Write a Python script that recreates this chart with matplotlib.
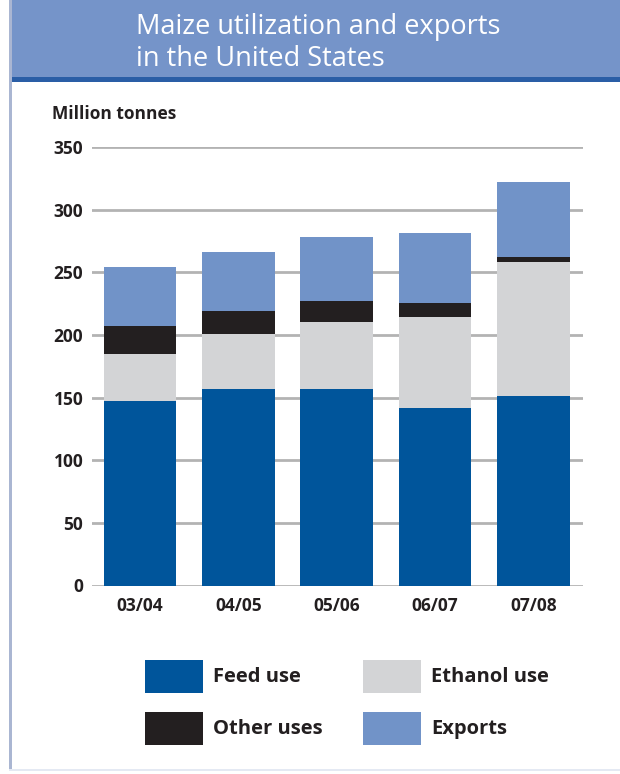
import matplotlib
matplotlib.use("Agg")
import matplotlib.pyplot as plt
from matplotlib.patches import Rectangle
import numpy as np

# Marketing years
seasons = ["03/04", "04/05", "05/06", "06/07", "07/08"]

# Utilization and exports, million tonnes
feed_use = [147.4, 156.7, 156.7, 142.0, 151.4]
ethanol_use = [37.5, 44.2, 54.0, 72.2, 107.0]
other_uses = [22.6, 18.6, 16.5, 11.7, 3.7]
exports = [46.7, 47.1, 51.4, 55.9, 60.4]

series_names = ["Feed use", "Ethanol use", "Other uses", "Exports"]
series_values = [feed_use, ethanol_use, other_uses, exports]
series_colors = ["#00559b", "#d3d4d6", "#231f20", "#7193c8"]

y_ticks = [0, 50, 100, 150, 200, 250, 300, 350]

plt.rcParams["font.family"] = ["Open Sans", "DejaVu Sans"]

W, H = 620, 774
fig = plt.figure(figsize=(W / 100, H / 100), dpi=100)
fig.patch.set_facecolor("white")

# Header band with title
fig.add_artist(Rectangle((10 / W, 1 - 77 / H), 1 - 10 / W, 77 / H,
                         transform=fig.transFigure, facecolor="#7594c9",
                         edgecolor="none"))
fig.add_artist(Rectangle((10 / W, 1 - 82 / H), 1 - 10 / W, 5 / H,
                         transform=fig.transFigure, facecolor="#2a5ea6",
                         edgecolor="none"))
# Frame lines
fig.add_artist(Rectangle((9 / W, 4 / H), 3 / W, 1 - 4 / H,
                         transform=fig.transFigure, facecolor="#aab6d2",
                         edgecolor="none"))
fig.add_artist(Rectangle((9 / W, 3 / H), 1 - 9 / W, 2 / H,
                         transform=fig.transFigure, facecolor="#e4e9f3",
                         edgecolor="none"))

fig.text(136 / W, 1 - 27 / H, "Maize utilization and exports",
         color="white", fontsize=19.5, va="center", ha="left")
fig.text(136 / W, 1 - 59 / H, "in the United States",
         color="white", fontsize=19.5, va="center", ha="left")

# Plot area
ax = fig.add_axes([91.7 / W, 188.5 / H, 491 / W, 438.2 / H])
x = np.arange(len(seasons))
bottom = np.zeros(len(seasons))
for name, vals, col in zip(series_names, series_values, series_colors):
    ax.bar(x, vals, width=0.737, bottom=bottom, color=col, label=name,
           zorder=3, linewidth=0)
    bottom += np.array(vals)

ax.set_xlim(-0.49, 4.5)
ax.set_ylim(0, 350)
ax.set_yticks(y_ticks)
ax.set_yticklabels([str(t) for t in y_ticks])
ax.set_xticks(x)
ax.set_xticklabels(seasons)
ax.yaxis.grid(True, color="#b3b3b3", linewidth=2, zorder=0)
ax.set_axisbelow(True)
for s in ax.spines.values():
    s.set_visible(False)
ax.tick_params(axis="both", length=0, labelsize=12.5, colors="#231f20")
ax.tick_params(axis="y", pad=6)
ax.tick_params(axis="x", pad=8)
for lbl in ax.get_xticklabels() + ax.get_yticklabels():
    lbl.set_fontweight("bold")

fig.text(52 / W, 1 - 114 / H, "Million tonnes", fontsize=12.5,
         fontweight="bold", color="#231f20", va="center", ha="left")

# Legend: two columns of swatches
legend_order = [0, 2, 1, 3]
slots = [(145, 660), (145, 712), (363, 660), (363, 712)]
for idx, (px, py) in zip(legend_order, slots):
    fig.add_artist(Rectangle((px / W, 1 - (py + 33) / H), 58 / W, 33 / H,
                             transform=fig.transFigure,
                             facecolor=series_colors[idx], edgecolor="none"))
    fig.text((px + 68) / W, 1 - (py + 17) / H, series_names[idx],
             fontsize=14.5, fontweight="bold", color="#231f20",
             va="center", ha="left")

fig.savefig("out.png", dpi=100)
